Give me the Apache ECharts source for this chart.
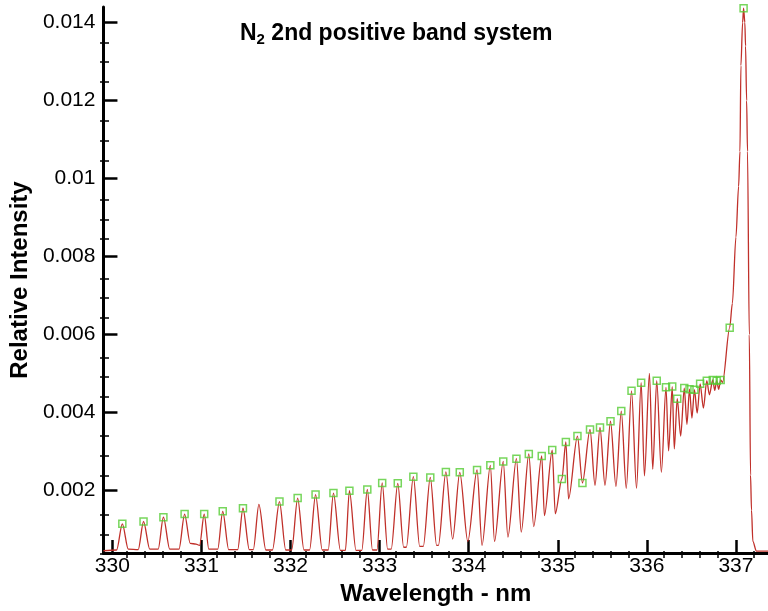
<!DOCTYPE html>
<html><head><meta charset="utf-8">
<script src="https://cdn.jsdelivr.net/npm/echarts@6/dist/echarts.min.js"></script>
<style>html,body{margin:0;padding:0;background:#fff}#c{width:768px;height:611px}</style>
</head><body><div id="c"></div>
<script>
// Spectrum trace (wavelength nm, relative intensity)
const lineX = [
329.90,330.048,330.112,330.179,330.29,330.350,330.42,330.514,330.573,330.644,
330.748,330.811,330.874,330.94,330.979,331.031,331.083,331.183,331.239,331.306,
331.407,331.466,331.537,331.582,331.645,331.723,331.797,331.876,331.946,332.013,
332.080,332.151,332.214,332.281,332.356,332.423,332.482,332.56,332.616,332.661,
332.735,332.80,332.862,332.92,332.97,333.029,333.09,333.13,333.204,333.27,
333.30,333.379,333.45,333.49,333.569,333.64,333.66,333.744,333.82,333.900,
333.99,334.094,334.15,334.243,334.29,334.388,334.44,334.536,334.59,334.675,
334.73,334.820,334.85,334.938,334.972,335.046,335.091,335.121,335.221,335.277,
335.362,335.418,335.474,335.53,335.592,335.653,335.713,335.769,335.828,335.884,
335.936,335.973,336.029,336.066,336.111,336.163,336.215,336.244,336.285,336.308,
336.341,336.38,336.42,336.45,336.479,336.506,336.534,336.565,336.598,336.635,
336.673,336.702,336.74,336.762,336.784,336.806,336.829,336.85,336.93,336.96,
337.00,337.03,337.045,337.056,337.075,337.086,337.10,337.108,337.12,337.13,
337.15,337.164,337.175,337.19,337.23,337.36
];
const lineY = [
0.00046,0.00048,0.00115,0.0005,0.00049,0.00121,0.0005,0.0005,0.00132,0.0005,
0.0005,0.0014,0.00065,0.00063,0.0006,0.0014,0.0005,0.0005,0.00147,0.00049,
0.00049,0.00155,0.00049,0.00049,0.00165,0.00048,0.00048,0.00172,0.00048,0.00048,
0.00181,0.00048,0.00048,0.0019,0.00048,0.00048,0.00194,0.00047,0.00047,0.0020,
0.00047,0.00047,0.00203,0.00048,0.00048,0.0022,0.0005,0.0005,0.00219,0.00055,
0.00055,0.00236,0.00057,0.00057,0.00234,0.0006,0.0006,0.00248,0.00076,0.00247,
0.0007,0.00253,0.0006,0.00265,0.0007,0.00275,0.00081,0.00282,0.00094,0.00294,
0.00108,0.00289,0.00136,0.00304,0.00141,0.0023,0.00325,0.00179,0.0034,0.0022,
0.00357,0.00214,0.00362,0.00214,0.00378,0.00211,0.00404,0.00206,0.00456,0.00206,
0.00477,0.00238,0.00501,0.00255,0.00482,0.00247,0.00465,0.00302,0.00467,0.00307,
0.00436,0.0034,0.00463,0.0037,0.0046,0.00386,0.00459,0.00399,0.00474,0.00412,
0.00482,0.00446,0.00484,0.00457,0.00482,0.0046,0.00484,0.00478,0.00618,0.0068,
0.0085,0.0098,0.0107,0.0129,0.0140,0.01437,0.0140,0.0134,0.0120,0.0107,
0.0060,0.0024,0.0015,0.0007,0.00045,0.00045
];
// Green square markers on identified lines
const markX = [
330.112,330.350,330.573,330.811,331.031,331.239,331.466,331.876,332.080,332.281,
332.482,332.661,332.862,333.029,333.204,333.379,333.569,333.744,333.900,334.094,
334.243,334.388,334.536,334.675,334.820,334.938,335.046,335.091,335.221,335.277,
335.362,335.474,335.592,335.713,335.828,335.936,336.111,336.215,336.285,336.341,
336.42,336.479,336.534,336.598,336.673,336.74,336.784,336.829,336.93,337.086
];
const markY = [
0.00115,0.00121,0.00132,0.0014,0.0014,0.00147,0.00155,0.00172,0.00181,0.0019,
0.00194,0.0020,0.00203,0.0022,0.00219,0.00236,0.00234,0.00248,0.00247,0.00253,
0.00265,0.00275,0.00282,0.00294,0.00289,0.00304,0.0023,0.00325,0.0034,0.0022,
0.00357,0.00362,0.00378,0.00404,0.00456,0.00477,0.00482,0.00465,0.00467,0.00436,
0.00463,0.0046,0.00459,0.00474,0.00482,0.00484,0.00482,0.00484,0.00618,0.01437
];
const xMajor = [330,331,332,333,334,335,336,337];
const xMinor = [330.2,330.4,330.6,330.8,331.2,331.4,331.6,331.8,332.2,332.4,332.6,332.8,
333.2,333.4,333.6,333.8,334.2,334.4,334.6,334.8,335.2,335.4,335.6,335.8,336.2,336.4,336.6,336.8,337.2];
const yMajor = [0.002,0.004,0.006,0.008,0.01,0.012,0.014];
const yMinor = [0.0005,0.001,0.0015,0.0025,0.003,0.0035,0.0045,0.005,0.0055,0.0065,0.007,0.0075,
0.0085,0.009,0.0095,0.0105,0.011,0.0115,0.0125,0.013,0.0135];

const X_MIN = 329.9, X_MAX = 337.36, Y_MIN = 0.0004, Y_MAX = 0.0144;
const FONT = 'Liberation Sans, Arial, sans-serif';

const chart = echarts.init(document.getElementById('c'), null, {renderer: 'canvas'});
const gridBox = {left: 100, right: 0, top: 7, bottom: 53, containLabel: false};
chart.setOption({
  animation: false,
  backgroundColor: '#fff',
  title: {
    text: '{a|N}{s|2}{a| 2nd positive band system}',
    left: 240, top: 20, padding: 0,
    textStyle: {
      rich: {
        a: {fontSize: 23, fontWeight: 'bold', fontFamily: FONT, color: '#000', lineHeight: 27},
        s: {fontSize: 15, fontWeight: 'bold', fontFamily: FONT, color: '#000', lineHeight: 15, verticalAlign: 'bottom'}
      }
    }
  },
  grid: [Object.assign({}, gridBox), Object.assign({}, gridBox)],
  xAxis: [{
    type: 'value', gridIndex: 0, min: X_MIN, max: X_MAX,
    name: 'Wavelength - nm', nameLocation: 'middle', nameGap: 25,
    nameTextStyle: {fontSize: 24, fontWeight: 'bold', fontFamily: FONT, color: '#000'},
    axisLine: {show: true, onZero: false, lineStyle: {color: '#000', width: 3}},
    axisTick: {show: true, inside: true, length: 13, customValues: xMajor, lineStyle: {color: '#000', width: 2.5}},
    axisLabel: {show: true, customValues: xMajor, fontSize: 21, fontFamily: FONT, color: '#000', margin: 3,
      formatter: v => String(v)},
    splitLine: {show: false}
  }, {
    type: 'value', gridIndex: 1, min: X_MIN, max: X_MAX,
    axisLine: {show: false},
    axisTick: {show: true, inside: true, length: 7, customValues: xMinor, lineStyle: {color: '#000', width: 1.5}},
    axisLabel: {show: false},
    splitLine: {show: false}
  }],
  yAxis: [{
    type: 'value', gridIndex: 0, min: Y_MIN, max: Y_MAX,
    name: 'Relative Intensity', nameLocation: 'middle', nameGap: 63, nameRotate: 90,
    nameTextStyle: {fontSize: 24, fontWeight: 'bold', fontFamily: FONT, color: '#000'},
    axisLine: {show: true, onZero: false, lineStyle: {color: '#000', width: 3}},
    axisTick: {show: true, inside: true, length: 14, customValues: yMajor, lineStyle: {color: '#000', width: 2.5}},
    axisLabel: {show: true, customValues: yMajor, fontSize: 21, fontFamily: FONT, color: '#000', margin: 8,
      formatter: v => String(v)},
    splitLine: {show: false}
  }, {
    type: 'value', gridIndex: 1, min: Y_MIN, max: Y_MAX,
    axisLine: {show: false},
    axisTick: {show: true, inside: true, length: 9, customValues: yMinor, lineStyle: {color: '#000', width: 1.5}},
    axisLabel: {show: false},
    splitLine: {show: false}
  }],
  series: [{
    type: 'line', xAxisIndex: 0, yAxisIndex: 0,
    data: lineX.map((x, i) => [x, lineY[i]]),
    showSymbol: false, smooth: 0.3, smoothMonotone: 'x',
    lineStyle: {color: '#c0302a', width: 1.3},
    z: 2
  }, {
    type: 'scatter', xAxisIndex: 0, yAxisIndex: 0,
    data: markX.map((x, i) => [x, markY[i]]),
    symbol: 'rect', symbolSize: 7,
    itemStyle: {color: 'rgba(255,255,255,0)', borderColor: '#55cc33', borderWidth: 1.5},
    z: 3
  }]
});
</script></body></html>
